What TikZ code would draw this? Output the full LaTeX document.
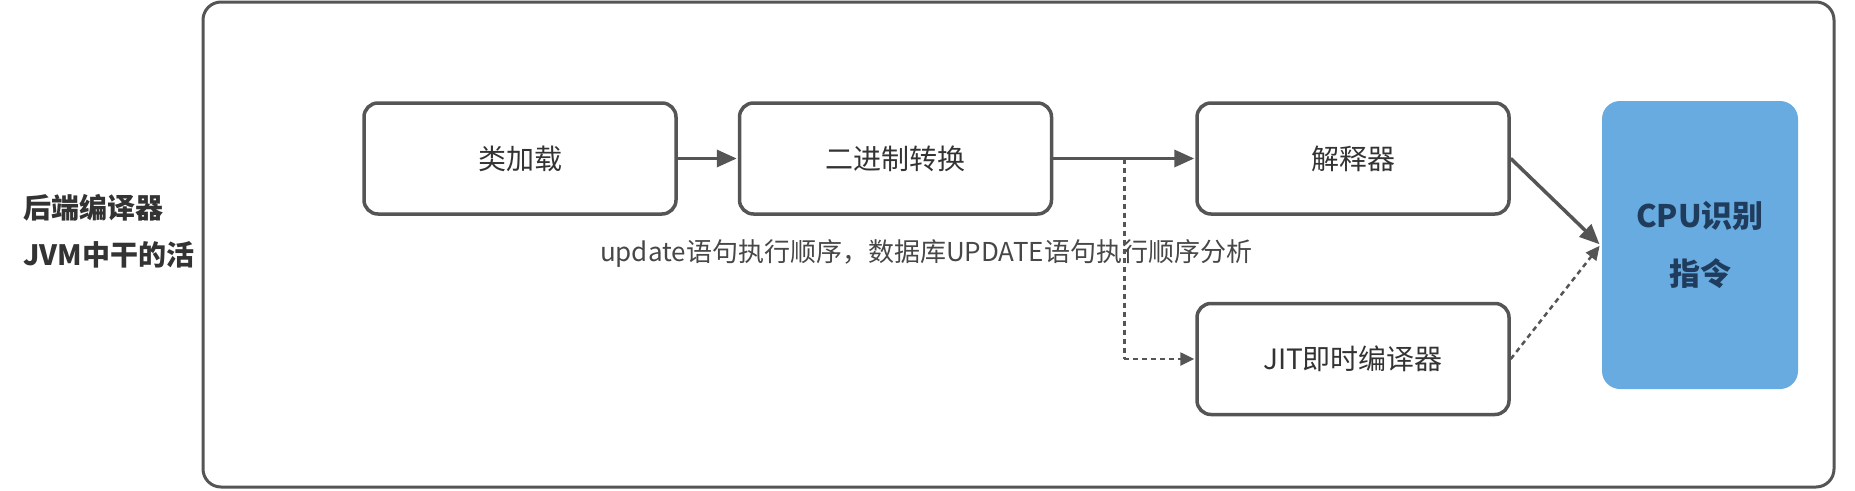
\documentclass[tikz,border=0pt]{standalone}
\usepackage{fontspec}
\setmainfont{Noto Sans CJK SC}
\usepackage{tikz}
\usetikzlibrary{arrows.meta,positioning}

\definecolor{linegray}{HTML}{555555}
\definecolor{textgray}{HTML}{333333}
\definecolor{cpublue}{HTML}{68ABE0}
\definecolor{cpunavy}{HTML}{1F3C5C}

\begin{document}
\begin{tikzpicture}[x=1pt,y=-1pt,->,>={Triangle[length=20pt,width=17pt]},shorten >=1pt,line width=3.5pt,draw=linegray,
				stage node/.style={rectangle,rounded corners=14pt,draw=linegray,line width=3.5pt,
					minimum width=312pt,minimum height=111pt,text=textgray,font=\fontsize{28}{34}\selectfont},
				cpu node/.style={rectangle,rounded corners=18pt,fill=cpublue,draw=none,minimum width=196pt,
					minimum height=288pt,text=cpunavy,align=center,font=\bfseries\fontsize{31}{58}\selectfont},
				frame node/.style={rectangle,rounded corners=18pt,draw=linegray,line width=3pt,
					minimum width=1631pt,minimum height=485pt}]
				
				\useasboundingbox (0,0) rectangle (1855,490);
				
				\node[frame node] (jvm) at (1018.5,244.5) {};
				\node[anchor=west,align=left,text=textgray,font=\bfseries\fontsize{28}{47}\selectfont] (side) at (18,231) {后端编译器\\JVM中干的活};
				
				\node[stage node] (load) at (520,158.5) {类加载};
				\node[stage node] (bin) [right=60pt of load] {二进制转换};
				\node[stage node] (interp) [right=142pt of bin] {解释器};
				\node[stage node] (jit) [below=86pt of interp] {JIT即时编译器};
				\node[cpu node] (cpu) at (1700,245) {CPU识别\\指令};
				
				\node[text=textgray!90,font=\fontsize{26}{30}\selectfont] (mark) at (926,253) {update语句执行顺序，数据库UPDATE语句执行顺序分析};
				
				\path
				(load) edge (bin)
				(bin) edge coordinate[midway] (fork) (interp)
				(interp.east) edge (cpu.west);
				
				\path[line width=2.5pt,dash pattern=on 5pt off 4pt,>={Triangle[length=14pt,width=13pt]}]
				(fork) edge[-,shorten >=0pt] (fork |- jit.west)
				(fork |- jit.west) edge (jit.west)
				(jit.east) edge (cpu.west);
				
				\end{tikzpicture}
\end{document}
